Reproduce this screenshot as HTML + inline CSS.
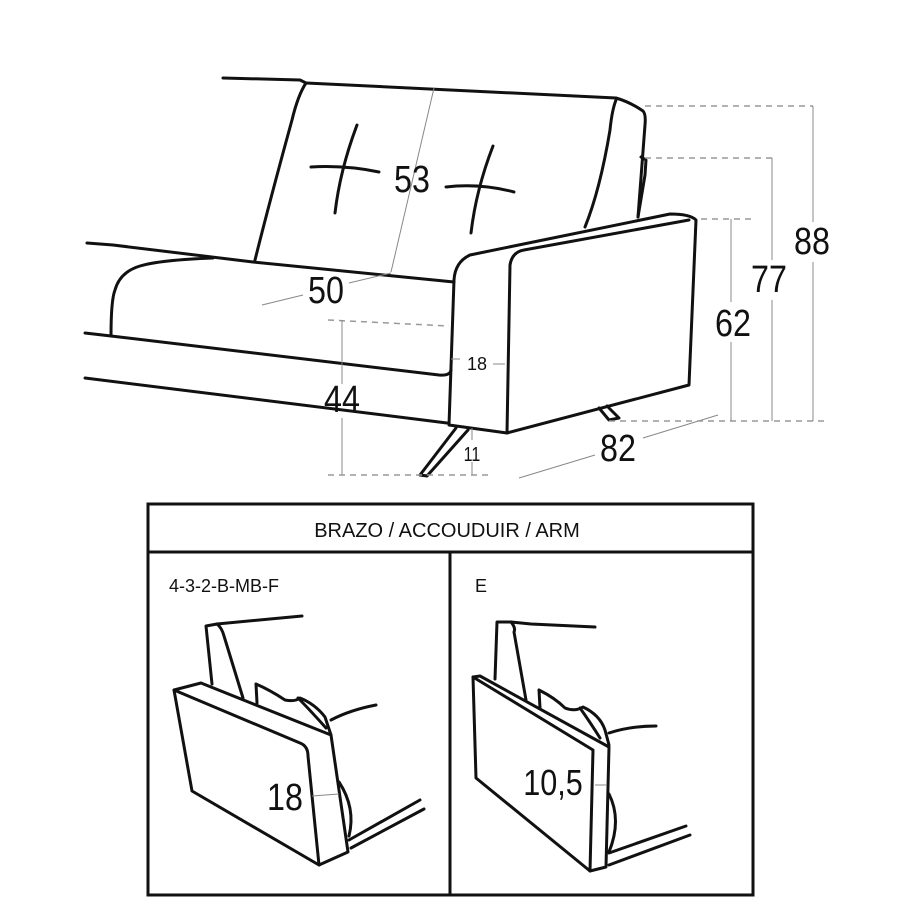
<!DOCTYPE html>
<html><head><meta charset="utf-8"><style>
html,body{margin:0;padding:0;background:#fff}
svg{display:block}
.k{fill:none;stroke:#111;stroke-width:3;stroke-linecap:round;stroke-linejoin:round}
.g{fill:none;stroke:#888;stroke-width:1}
.d{fill:none;stroke:#999;stroke-width:1.5;stroke-dasharray:6 5}
.t{font-family:"Liberation Sans",sans-serif;fill:#111}
</style></head><body>
<svg width="924" height="924" viewBox="0 0 924 924" xmlns="http://www.w3.org/2000/svg">
<rect width="924" height="924" fill="#fff"/>
<!-- back -->
<path class="k" d="M223 78 L300 80 L306 83"/>
<path class="k" d="M306 83 L616 98 Q630 102 643 111 Q646 114 645 125 L638 217"/>
<path class="k" d="M306 83 Q298 95 292 120 Q270 200 255 260"/>
<path class="k" d="M616 100 Q612 110 610 130 Q600 190 585 227"/>
<path class="k" d="M641 157 L646 160 L645 175 L638 217"/>
<path class="k" d="M87 243 L113 245 L253 262 L454 282"/>
<!-- crosses -->
<path class="k" d="M311 167 Q345 165 379 172 M357 125 Q340 170 335 213"/>
<path class="k" d="M446 187 Q480 183 514 192 M493 146 Q476 190 471 233"/>
<!-- seat cushion -->
<path class="k" d="M213 258 Q160 260 140 266 Q120 272 115 290 Q111 300 111 336"/>
<path class="k" d="M85 333 L111 336 L439 375 Q450 376 451 370"/>
<path class="k" d="M85 378 L447 423"/>
<!-- arm -->
<path class="k" d="M449 425 L454 280 Q455 262 470 255 L670 214 Q690 214 696 220 L689 385 L507 433 L449 425"/>
<path class="k" d="M507 433 L510 265 Q512 252 524 250 L689 220"/>
<!-- legs -->
<path class="k" d="M456 428 L420 475 L427 476 L468 430"/>
<path class="k" d="M599 408 L609 420 L619 418 L607 406"/>
<!-- dims -->
<path class="g" d="M434 88 L391 272"/>
<path class="g" d="M262 305 L303 295 M349 283 L391 273"/>
<text class="t" x="412" y="192" font-size="38" text-anchor="middle" transform="translate(412 0) scale(0.85 1) translate(-412 0)">53</text>
<text class="t" x="326" y="303" font-size="38" text-anchor="middle" transform="translate(326 0) scale(0.85 1) translate(-326 0)">50</text>
<path class="d" d="M328 320 L449 326"/>
<path class="g" d="M342 320 L342 384 M342 418 L342 475"/>
<text class="t" x="342" y="412" font-size="38" text-anchor="middle" transform="translate(342 0) scale(0.85 1) translate(-342 0)">44</text>
<path class="d" d="M328 475 L490 475"/>
<path class="g" d="M451 359 L460 359 M493 364 L505 364"/>
<text class="t" x="477" y="370" font-size="18" text-anchor="middle">18</text>
<path class="g" d="M472 428 L472 440 M472 462 L472 475"/>
<text class="t" x="472" y="461" font-size="20" text-anchor="middle" transform="translate(472 0) scale(0.8 1) translate(-472 0)">11</text>
<path class="g" d="M519 478 L595 455 M643 438 L718 415"/>
<text class="t" x="618" y="461" font-size="38" text-anchor="middle" transform="translate(618 0) scale(0.85 1) translate(-618 0)">82</text>
<path class="d" d="M701 219 L755 219 M645 158 L772 158 M645 106 L813 106 M609 421 L825 421"/>
<path class="g" d="M731 219 L731 302 M731 342 L731 421"/>
<path class="g" d="M772 158 L772 260 M772 300 L772 421"/>
<path class="g" d="M813 106 L813 222 M813 262 L813 421"/>
<text class="t" x="733" y="336" font-size="38" text-anchor="middle" transform="translate(733 0) scale(0.85 1) translate(-733 0)">62</text>
<text class="t" x="769" y="292" font-size="38" text-anchor="middle" transform="translate(769 0) scale(0.85 1) translate(-769 0)">77</text>
<text class="t" x="812" y="254" font-size="38" text-anchor="middle" transform="translate(812 0) scale(0.85 1) translate(-812 0)">88</text>
<!-- table -->
<rect x="148" y="504" width="605" height="391" fill="none" stroke="#111" stroke-width="3"/>
<path d="M148 552 L753 552 M450 552 L450 895" stroke="#111" stroke-width="3" fill="none"/>
<text class="t" x="447" y="537" font-size="20" text-anchor="middle">BRAZO / ACCOUDUIR / ARM</text>
<text class="t" x="169" y="592" font-size="18">4-3-2-B-MB-F</text>
<text class="t" x="475" y="592" font-size="18">E</text>
<!-- left drawing -->
<path class="k" d="M212 684 L206 626 L217 624 L302 616"/>
<path class="k" d="M217 624 Q222 628 224 636 L243 698"/>
<path class="k" d="M256 684 L257 703 M256 684 Q270 690 285 700 Q295 702 300 698 Q315 704 325 717 L331 735 M298 698 Q310 710 326 728"/>
<path class="k" d="M331 720 Q350 710 376 705"/>
<path class="k" d="M174 690 L201 683 L331 735 L348 852 L319 865 L192 791 Z"/>
<path class="k" d="M174 690 L300 743 Q308 746 308 756 L319 865"/>
<path class="k" d="M339 782 Q356 808 349 836"/>
<path class="k" d="M349 840 L420 800 M351 848 L424 809"/>
<path class="g" d="M312 796 L339 794" stroke="#333"/>
<text class="t" x="285" y="810" font-size="38" text-anchor="middle" transform="translate(285 0) scale(0.85 1) translate(-285 0)">18</text>
<!-- right drawing -->
<path class="k" d="M495 679 L497 622 L511 622 L531 624 L595 627"/>
<path class="k" d="M511 622 Q516 628 514 632 L526 700"/>
<path class="k" d="M539 690 L540 708 M539 690 Q555 698 565 708 Q575 712 583 707 Q600 715 605 730 L609 745 M580 708 Q590 722 600 738"/>
<path class="k" d="M609 733 Q630 726 656 726"/>
<path class="k" d="M473 677 L480 676 L609 747 L606 867 L590 871 L476 778 Z"/>
<path class="k" d="M473 677 L593 750 L590 871"/>
<path class="k" d="M609 794 Q622 820 609 852"/>
<path class="k" d="M609 853 L686 826 M609 865 L690 835"/>
<path class="g" d="M595 785 L607 785" stroke="#333"/>
<text class="t" x="553" y="795" font-size="36" text-anchor="middle" transform="translate(553 0) scale(0.85 1) translate(-553 0)">10,5</text>
</svg>
</body></html>
